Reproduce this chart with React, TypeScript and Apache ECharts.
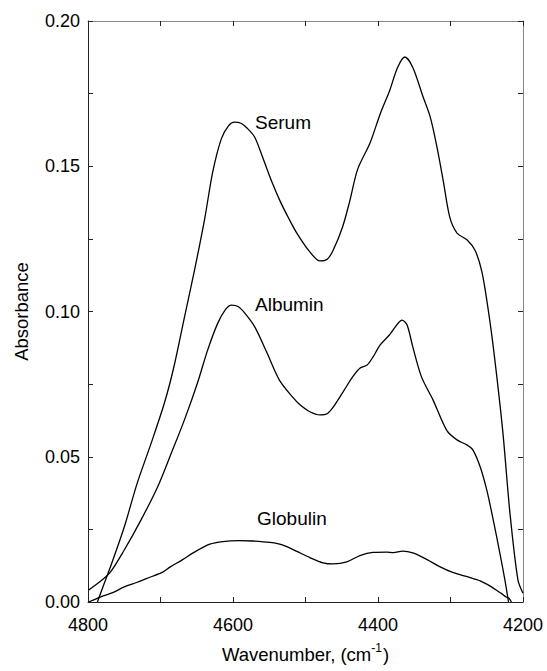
import React, { useEffect, useRef } from "react";
import * as echarts from "echarts";

const serumWn = [4787, 4777, 4768, 4750, 4732, 4712, 4694, 4681, 4667, 4653, 4639, 4628, 4616, 4606, 4598, 4589, 4580, 4570, 4559, 4547, 4535, 4523, 4512, 4494, 4480, 4470, 4462, 4449, 4439, 4428, 4411, 4397, 4384, 4373, 4363, 4352, 4338, 4328, 4319, 4310, 4301, 4291, 4277, 4266, 4257, 4250, 4241, 4228, 4218, 4207, 4200];
const serumAbs = [0.0, 0.0068, 0.0128, 0.0258, 0.041, 0.0553, 0.0690, 0.0815, 0.098, 0.1143, 0.1320, 0.1480, 0.1595, 0.1640, 0.1652, 0.1648, 0.163, 0.160, 0.153, 0.145, 0.138, 0.132, 0.127, 0.1205, 0.1174, 0.1180, 0.121, 0.129, 0.138, 0.149, 0.158, 0.168, 0.176, 0.184, 0.1876, 0.184, 0.174, 0.167, 0.157, 0.145, 0.1325, 0.127, 0.1246, 0.121, 0.114, 0.104, 0.0878, 0.059, 0.0306, 0.0076, 0.003];

const albuminWn = [4799, 4786, 4770, 4750, 4727, 4704, 4685, 4667, 4649, 4635, 4621, 4610, 4602, 4593, 4584, 4570, 4553, 4536, 4518, 4508, 4494, 4480, 4470, 4462, 4449, 4435, 4425, 4415, 4407, 4397, 4384, 4374, 4367, 4360, 4352, 4340, 4324, 4305, 4291, 4277, 4269, 4259, 4250, 4241, 4232, 4225, 4220];
const albuminAbs = [0.0041, 0.0065, 0.010, 0.0179, 0.0282, 0.0396, 0.0513, 0.0627, 0.0754, 0.0867, 0.096, 0.1008, 0.1022, 0.1017, 0.0995, 0.0947, 0.0857, 0.0764, 0.0706, 0.068, 0.0655, 0.0644, 0.0648, 0.067, 0.072, 0.0775, 0.0805, 0.0816, 0.0843, 0.0885, 0.092, 0.0954, 0.097, 0.0954, 0.0878, 0.0775, 0.0695, 0.059, 0.0558, 0.054, 0.0523, 0.0465, 0.0386, 0.0282, 0.0169, 0.0076, 0.0];

const globulinWn = [4799, 4783, 4766, 4750, 4732, 4714, 4697, 4687, 4670, 4655, 4632, 4614, 4591, 4573, 4549, 4531, 4512, 4494, 4476, 4462, 4443, 4425, 4407, 4388, 4379, 4366, 4352, 4333, 4315, 4297, 4277, 4259, 4244, 4234, 4229, 4226, 4222, 4219, 4216];
const globulinAbs = [0.0, 0.0017, 0.0032, 0.0052, 0.0068, 0.0086, 0.0103, 0.012, 0.0145, 0.0169, 0.0199, 0.0208, 0.0211, 0.0210, 0.0205, 0.0196, 0.0174, 0.0153, 0.0135, 0.0131, 0.0138, 0.0160, 0.0171, 0.0172, 0.0170, 0.0175, 0.0169, 0.0147, 0.0122, 0.0102, 0.0087, 0.0073, 0.0053, 0.0036, 0.0028, 0.0022, 0.0016, 0.0012, 0.0];

const xTickLabels = ["4800", "4600", "4400", "4200"];
const yTickLabels = ["0.00", "0.05", "0.10", "0.15", "0.20"];

const seriesNames = ["Serum", "Albumin", "Globulin"];

const FONT = "'Liberation Sans', Arial, sans-serif";

function pairs(xs: number[], ys: number[]) {
  return xs.map((x, i) => [x, ys[i]]);
}

export default function App() {
  const ref = useRef<HTMLDivElement>(null);
  useEffect(() => {
    if (!ref.current) return;
    document.body.style.margin = "0";
    const chart = echarts.init(ref.current, undefined, { renderer: "svg" });
    const xLabel = (v: number) => {
      const s = String(Math.round(v));
      return xTickLabels.includes(s) ? s : "";
    };
    const yLabel = (v: number) => {
      const s = v.toFixed(2);
      const ok = Math.abs(Math.round(v / 0.05) * 0.05 - v) < 1e-6;
      return ok && yTickLabels.includes(s) ? s : "";
    };
    const tickStyle = { show: true, inside: true, length: 5, lineStyle: { color: "#222", width: 1 } };
    const lineStyle = { color: "#000", width: 1.3 };
    const dataSets = [
      pairs(serumWn, serumAbs),
      pairs(albuminWn, albuminAbs),
      pairs(globulinWn, globulinAbs),
    ];
    chart.setOption({
      animation: false,
      backgroundColor: "#fff",
      grid: { left: 88, right: 24, top: 21, bottom: 69, containLabel: false },
      xAxis: [
        {
          type: "value",
          position: "bottom",
          inverse: true,
          min: 4200,
          max: 4800,
          interval: 100,
          axisLine: { show: true, onZero: false, lineStyle: { color: "#222", width: 1 } },
          axisTick: tickStyle,
          axisLabel: { formatter: xLabel, fontSize: 18, fontFamily: FONT, color: "#000", margin: 14, showMinLabel: true, showMaxLabel: true },
          splitLine: { show: false },
          name: "{b|Wavenumber, (cm}{s|-1}{b|)}",
          nameLocation: "middle",
          nameGap: 40,
          nameTextStyle: {
            fontSize: 18,
            fontFamily: FONT,
            color: "#000",
            rich: {
              b: { fontSize: 18.5, fontFamily: FONT, color: "#000", lineHeight: 22, verticalAlign: "bottom" },
              s: { fontSize: 12, fontFamily: FONT, color: "#000", lineHeight: 22, verticalAlign: "top", padding: [0, 1, 0, 0] },
            },
          },
        },
        {
          type: "value",
          position: "top",
          inverse: true,
          min: 4200,
          max: 4800,
          interval: 100,
          axisLine: { show: true, onZero: false, lineStyle: { color: "#888", width: 1 } },
          axisTick: tickStyle,
          axisLabel: { show: false },
          splitLine: { show: false },
        },
      ],
      yAxis: [
        {
          type: "value",
          position: "left",
          min: 0,
          max: 0.2,
          interval: 0.025,
          axisLine: { show: true, onZero: false, lineStyle: { color: "#222", width: 1 } },
          axisTick: tickStyle,
          axisLabel: { formatter: yLabel, fontSize: 18, fontFamily: FONT, color: "#000", margin: 8 },
          splitLine: { show: false },
          name: "Absorbance",
          nameLocation: "middle",
          nameGap: 57,
          nameTextStyle: { fontSize: 18.5, fontFamily: FONT, color: "#000" },
        },
        {
          type: "value",
          position: "right",
          min: 0,
          max: 0.2,
          interval: 0.025,
          axisLine: { show: true, onZero: false, lineStyle: { color: "#888", width: 1 } },
          axisTick: tickStyle,
          axisLabel: { show: false },
          splitLine: { show: false },
        },
      ],
      series: seriesNames.map((name, i) => ({
        name,
        type: "line",
        xAxisIndex: 0,
        yAxisIndex: 0,
        data: dataSets[i],
        showSymbol: false,
        smooth: 0.3,
        lineStyle,
        clip: true,
      })),
      graphic: [
        { type: "text", left: 255, top: 113, style: { text: seriesNames[0], fontSize: 19, fontFamily: FONT, fill: "#000" } },
        { type: "text", left: 255, top: 295, style: { text: seriesNames[1], fontSize: 19, fontFamily: FONT, fill: "#000" } },
        { type: "text", left: 257, top: 509, style: { text: seriesNames[2], fontSize: 19, fontFamily: FONT, fill: "#000" } },
      ],
    });
    return () => chart.dispose();
  }, []);
  return <div ref={ref} style={{ width: 547, height: 671 }} />;
}
